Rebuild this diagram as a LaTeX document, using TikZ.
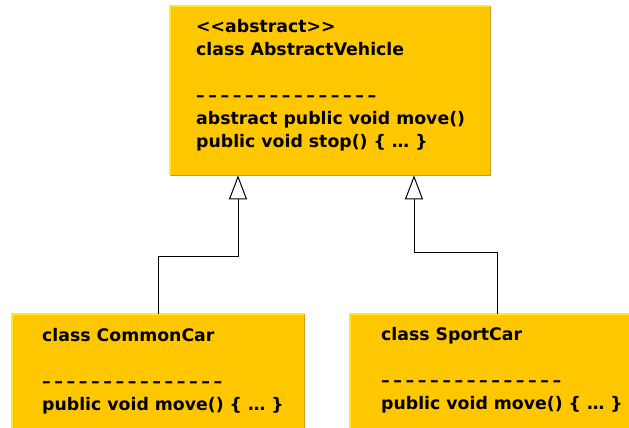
\documentclass[tikz,border=0pt]{standalone}
\usepackage{fontspec}
\setmainfont{DejaVu Sans}
\usepackage{tikz}
\usetikzlibrary{calc,arrows.meta}

\definecolor{boxfill}{RGB}{255,199,0}
\definecolor{boxlight}{RGB}{255,232,40}
\definecolor{boxdark}{RGB}{200,160,30}

% row of separator dashes
\newcommand{\dashrow}{\foreach \d in {1,...,14}{\textendash\hspace{3.6pt}}\textendash}

\begin{document}
\begin{tikzpicture}[x=1pt,y=1pt,
    classbox/.style={fill=boxfill,inner sep=0pt,anchor=north west},
    classtext/.style={inner sep=0pt,anchor=north west,align=left,
        font=\fontsize{17.3}{23}\selectfont\bfseries},
    inherit/.style={line width=1pt,-{Triangle[length=24pt,width=18pt,fill=white]}}]
        \useasboundingbox (0,0) rectangle (629,428);
        \node[classbox,minimum width=320pt,minimum height=169pt] (vehicle) at (170,422) {};
        \node[classbox,minimum width=292pt,minimum height=130pt] (commoncar) at (12,114) {};
        \node[classbox,minimum width=290pt,minimum height=130pt] (sportcar) at (350,114) {};
        \foreach \b in {vehicle,commoncar,sportcar}
        {
        \draw[boxlight,line width=1.2pt] (\b.south west) -- (\b.north west) -- (\b.north east);
        \draw[boxdark,line width=1.2pt] (\b.north east) -- (\b.south east) -- (\b.south west);
        }
        \node[classtext] (vehicletxt) at (196,411.4)
            {\strut{}<{}<abstract>{}>\\ class AbstractVehicle\\[23pt] \dashrow\\
             abstract public void move()\\ public void stop() \{ … \}};
        \node[classtext] (commoncartxt) at (42,102.8)
            {\strut{}class CommonCar\\[23pt] \dashrow\\ public void move() \{ … \}};
        \node[classtext] (sportcartxt) at (381,103.5)
            {\strut{}class SportCar\\[23pt] \dashrow\\ public void move() \{ … \}};
        \draw[inherit] ([xshift=146pt]commoncar.north west) -- ++(0,57) -| ([xshift=68pt]vehicle.south west);
        \draw[inherit] ([xshift=147pt]sportcar.north west) -- ++(0,61) -| ([xshift=244pt]vehicle.south west);
    \end{tikzpicture}
\end{document}
